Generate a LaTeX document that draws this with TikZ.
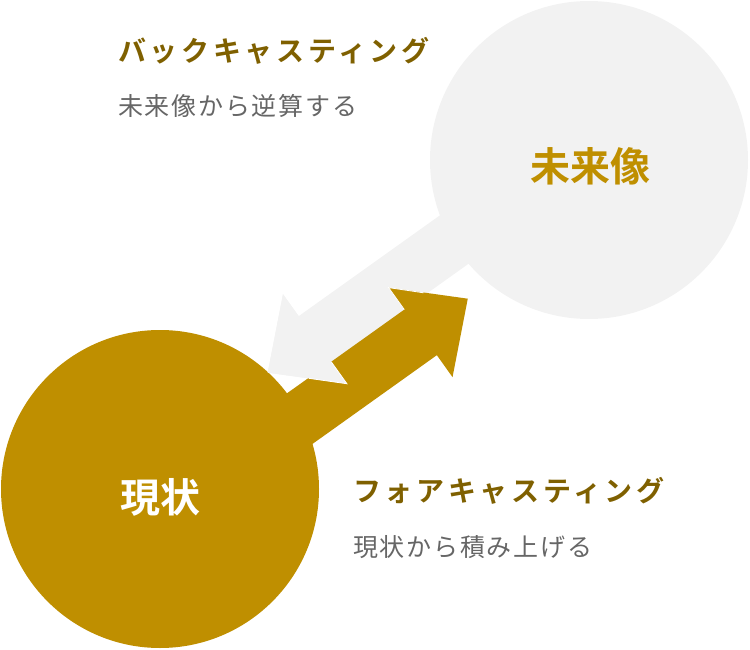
\documentclass[tikz,border=0pt]{standalone}
\usepackage{fontspec}
\newfontfamily\cjk{Noto Sans CJK JP}[BoldFont={Noto Sans CJK JP Bold}]
\definecolor{goldc}{HTML}{BF8F00}
\definecolor{titlec}{HTML}{7F6000}
\definecolor{grayc}{HTML}{F2F2F2}
\definecolor{subc}{HTML}{666666}
\tikzset{
  ball/.style={circle, inner sep=0pt, outer sep=0pt, minimum size=318pt},
  heading/.style={anchor=west, inner sep=0pt, text=titlec, font=\cjk\bfseries\fontsize{28}{32}\selectfont\addfontfeatures{LetterSpace=13}},
  subhead/.style={anchor=west, inner sep=0pt, text=subc, font=\cjk\fontsize{25}{29}\selectfont\addfontfeatures{LetterSpace=7}},
  balllabel/.style={inner sep=0pt, font=\cjk\bfseries\fontsize{40}{44}\selectfont},
  notch/.style={draw=white, line width=0.8pt, line join=miter}
}
\begin{document}
\begin{tikzpicture}[x=1pt, y=-1pt]
\useasboundingbox (0,0) rectangle (750,650);
% circles
\node[ball, fill=grayc] (future) at (589,160) {};
\node[ball, fill=goldc] (now) at (160,489) {};
% arrows in a frame along the arrow direction
\begin{scope}[shift={(368pt,-335.5pt)}, x={(0.814pt,0.581pt)}, y={(0.581pt,-0.814pt)}]
  % gray arrow (future -> now)
  \fill[grayc] (282,0) -- (-45.2,0) -- (-45.2,27) -- (-103.2,-28) -- (-45.2,-83) -- (-45.2,-56) -- (282,-56) -- cycle;
  % gold arrow (now -> future)
  \fill[goldc] (-258,0) -- (44.6,0) -- (44.6,-27) -- (102.6,28) -- (44.6,83) -- (44.6,56) -- (-258,56) -- cycle;
  \draw[notch] (44.6,0) -- (44.6,-27) -- (70,-2.5);
  % gray head on top of gold shaft
  \fill[grayc] (-45.2,27) -- (-103.2,-28) -- (-45.2,-83) -- cycle;
  \draw[notch] (-45.2,0) -- (-45.2,27) -- (-73,0.5);
\end{scope}
% circle labels
\node[balllabel, text=goldc] (futurelbl) at (590,166) {未来像};
\node[balllabel, text=white] (nowlbl) at (160,497) {現状};
% headings
\node[heading] (back) at (118,51) {バックキャスティング};
\node[subhead] (backsub) at (118,106) {未来像から逆算する};
\node[heading] (fore) at (353,491) {フォアキャスティング};
\node[subhead] (foresub) at (353,547) {現状から積み上げる};
\end{tikzpicture}
\end{document}
